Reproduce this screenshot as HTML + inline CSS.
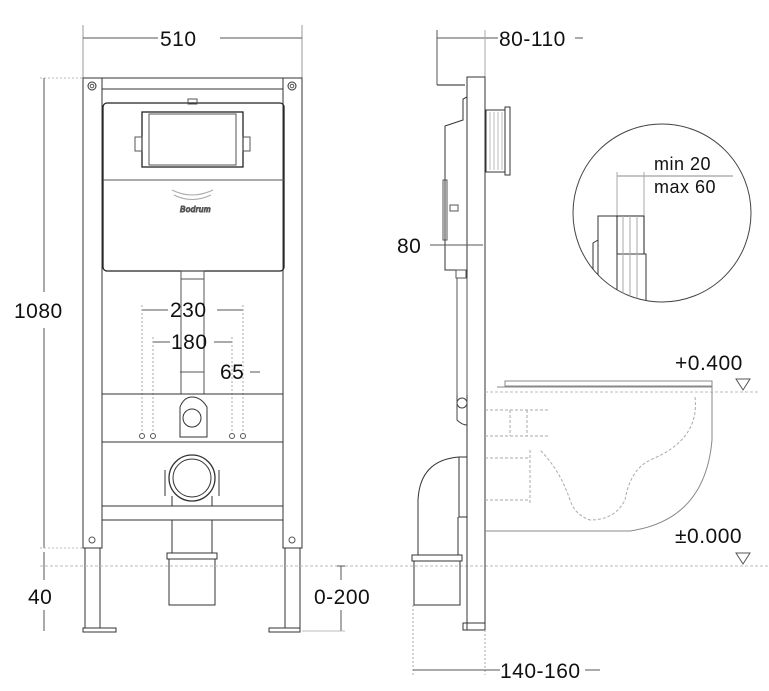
<!DOCTYPE html>
<html><head><meta charset="utf-8"><style>
html,body{margin:0;padding:0;background:#fff;}
svg{display:block}
text{font-family:"Liberation Sans",sans-serif;fill:#111;font-size:21px;letter-spacing:0.5px}
</style></head><body>
<svg width="769" height="691" viewBox="0 0 769 691" xmlns="http://www.w3.org/2000/svg">
<defs><clipPath id="cc"><circle cx="662" cy="213" r="89"/></clipPath></defs>
<g fill="none" stroke="#555" stroke-width="1">
<line x1="83" y1="25" x2="83" y2="78" stroke="#999"/>
<line x1="302" y1="25" x2="302" y2="78" stroke="#999"/>
<line x1="83" y1="38" x2="158" y2="38"/><line x1="220" y1="38" x2="302" y2="38"/>
<line x1="40" y1="78" x2="83" y2="78" stroke="#bbb" stroke-dasharray="2 2"/>
<line x1="44" y1="78" x2="44" y2="292"/><line x1="44" y1="328" x2="44" y2="548"/>
<line x1="40" y1="548" x2="83" y2="548" stroke="#bbb" stroke-dasharray="2 2"/>
<line x1="44" y1="552" x2="44" y2="580"/><line x1="44" y1="610" x2="44" y2="631"/>
<rect x="83" y="78" width="19" height="470" stroke="#333"/>
<rect x="283" y="78" width="19" height="470" stroke="#333"/>
<line x1="102" y1="78" x2="283" y2="78" stroke="#333"/>
<line x1="102" y1="89" x2="283" y2="89" stroke="#333"/>
<circle cx="92" cy="86" r="4" stroke="#333"/><circle cx="92" cy="86" r="1.8"/>
<circle cx="292" cy="86" r="4" stroke="#333"/><circle cx="292" cy="86" r="1.8"/>
<rect x="103" y="103" width="181" height="168" rx="4" stroke="#222" stroke-width="1.3"/>
<line x1="103" y1="180" x2="284" y2="180"/>
<rect x="142" y="112" width="101" height="55" stroke="#222" stroke-width="1.3"/>
<rect x="149" y="114" width="87" height="51"/>
<rect x="135" y="137" width="7" height="14"/><rect x="243" y="137" width="7" height="14"/>
<rect x="188" y="99" width="9" height="5"/>
<path d="M172 190 Q192 200 213 190 M174 195 Q192 204 211 195" stroke="#aaa"/>
<text x="180" y="212" style="font-size:8px;font-style:italic;fill:#aaa">Bodrum</text>
<rect x="181" y="271" width="23" height="8"/>
<line x1="181" y1="279" x2="181" y2="394"/><line x1="204" y1="279" x2="204" y2="394"/>
<line x1="142" y1="310" x2="168" y2="310"/><line x1="217" y1="310" x2="243" y2="310"/>
<line x1="153" y1="342" x2="170" y2="342"/><line x1="214" y1="342" x2="232" y2="342"/>
<line x1="180" y1="372" x2="204" y2="372"/><line x1="250" y1="372" x2="260" y2="372"/>
<g stroke="#aaa" stroke-dasharray="2 2">
<line x1="142" y1="305" x2="142" y2="432"/><line x1="153" y1="337" x2="153" y2="432"/>
<line x1="232" y1="337" x2="232" y2="432"/><line x1="243" y1="305" x2="243" y2="432"/>
</g>
<line x1="102" y1="394" x2="283" y2="394" stroke="#333"/>
<line x1="102" y1="442" x2="283" y2="442" stroke="#333"/>
<line x1="102" y1="506" x2="283" y2="506" stroke="#333"/>
<line x1="102" y1="520" x2="283" y2="520" stroke="#333"/>
<circle cx="142" cy="436" r="2.5"/><circle cx="153" cy="436" r="2.5"/>
<circle cx="232" cy="436" r="2.5"/><circle cx="243" cy="436" r="2.5"/>
<path d="M180 437 L180 407 Q184 397 192 397 Q201 397 207 407 L207 437 Z" stroke="#333"/>
<circle cx="192" cy="418" r="9" stroke="#333"/>
<circle cx="192" cy="478" r="23" stroke="#333" stroke-width="1.3"/>
<circle cx="192" cy="478" r="19" stroke="#333"/>
<path d="M165 470 L165 496 M219 470 L219 496 M172 496 L172 506 M212 496 L212 506" stroke="#333"/>
<rect x="85" y="548" width="15" height="80" stroke="#333"/>
<rect x="285" y="548" width="15" height="80" stroke="#333"/>
<circle cx="92" cy="540" r="3"/><circle cx="292" cy="540" r="3"/>
<rect x="83" y="628" width="33" height="4" stroke="#333"/>
<rect x="269" y="628" width="31" height="4" stroke="#333"/>
<rect x="172" y="520" width="40" height="33" stroke="#333"/>
<rect x="167" y="553" width="50" height="6" stroke="#333"/>
<rect x="169" y="559" width="46" height="46" stroke="#333"/>
<line x1="40" y1="566" x2="769" y2="566" stroke="#bbb" stroke-dasharray="3 2"/>
<line x1="341" y1="566" x2="341" y2="580"/><line x1="341" y1="610" x2="341" y2="631"/>
<line x1="302" y1="631" x2="345" y2="631" stroke="#bbb"/>
<line x1="337" y1="566" x2="345" y2="566"/>

<line x1="437" y1="30" x2="437" y2="85"/>
<line x1="437" y1="38" x2="498" y2="38"/><line x1="575" y1="38" x2="583" y2="38"/>
<line x1="485" y1="30" x2="485" y2="77" stroke="#aaa"/>
<line x1="437" y1="85" x2="465" y2="85" stroke="#222"/>
<rect x="467" y="77" width="18" height="553" stroke="#333"/>
<path d="M467 97 L463 99 L463 120 L445 126 L445 270 L467 270" stroke="#333"/>
<rect x="443" y="180" width="4" height="60"/>
<rect x="450" y="205" width="8" height="6"/>
<rect x="456" y="270" width="10" height="8"/>
<line x1="457" y1="278" x2="457" y2="395"/><line x1="467" y1="278" x2="467" y2="395"/>
<rect x="486" y="110" width="19" height="62" stroke="#333"/>
<rect x="505" y="107" width="5" height="68" stroke="#333"/>
<g stroke="#bbb"><line x1="490" y1="112" x2="490" y2="170"/><line x1="494" y1="112" x2="494" y2="170"/><line x1="498" y1="112" x2="498" y2="170"/><line x1="502" y1="112" x2="502" y2="170"/></g>
<line x1="430" y1="245" x2="483" y2="245"/>
<circle cx="662" cy="213" r="89" stroke="#444"/>
<line x1="617" y1="176" x2="733" y2="176" stroke="#888"/>
<line x1="617" y1="172" x2="617" y2="216" stroke="#aaa"/>
<line x1="644" y1="172" x2="644" y2="216" stroke="#aaa"/>
<g clip-path="url(#cc)">
<rect x="598" y="216" width="19" height="100" stroke="#333"/>
<path d="M598 240 L593 243 L593 300" stroke="#333"/>
<rect x="617" y="216" width="27" height="38" stroke="#222"/>
<rect x="617" y="254" width="29" height="60" stroke="#333"/>
<g stroke="#aaa"><line x1="623" y1="216" x2="623" y2="310"/><line x1="630" y1="216" x2="630" y2="310"/><line x1="637" y1="216" x2="637" y2="310"/></g>
</g>
<rect x="505" y="381" width="207" height="5" stroke="#888"/>
<path d="M497 387 L712 387 L712 392" stroke="#888"/>
<line x1="485" y1="392" x2="760" y2="392" stroke="#bbb" stroke-dasharray="3 2"/>
<path d="M712 392 L712 440 Q705 520 630 531 L485 531" stroke="#888"/>
<path d="M695 397 Q700 440 650 460 Q630 470 625 500 Q615 520 590 520 Q575 515 570 500 Q560 470 540 450" stroke="#aaa" stroke-dasharray="3 2"/>
<path d="M485 410 L548 410 M485 436 L548 436 M510 410 L510 436 M527 410 L527 436 M485 458 L530 458 M485 500 L530 500 M530 450 L530 505" stroke="#aaa" stroke-dasharray="3 2"/>
<path d="M457 395 L457 420 Q462 425 467 425" stroke="#444"/>
<circle cx="462" cy="403" r="5" stroke="#444"/>
<path d="M459 457 Q420 460 418 500 L418 555" stroke="#333"/>
<line x1="458" y1="517" x2="458" y2="555" stroke="#333"/>
<rect x="459" y="457" width="8" height="60" stroke="#333"/>
<rect x="412" y="555" width="50" height="6" stroke="#333"/>
<rect x="414" y="561" width="46" height="44" stroke="#333"/>
<rect x="463" y="623" width="22" height="7" stroke="#333"/>
<line x1="413" y1="605" x2="413" y2="675" stroke="#aaa" stroke-dasharray="2 2"/>
<line x1="485" y1="630" x2="485" y2="675" stroke="#aaa" stroke-dasharray="2 2"/>
<line x1="413" y1="670" x2="500" y2="670"/><line x1="585" y1="670" x2="600" y2="670"/>
<path d="M736 379 L750 379 L743 390 Z" stroke="#555"/>
<path d="M736 553 L750 553 L743 564 Z" stroke="#555"/>
</g>
<text x="160" y="46">510</text>
<text x="14" y="318">1080</text>
<text x="170" y="317">230</text>
<text x="171" y="349">180</text>
<text x="220" y="379">65</text>
<text x="28" y="604">40</text>
<text x="314" y="604">0-200</text>
<text x="499" y="46">80-110</text>
<text x="397" y="253">80</text>
<text x="654" y="170" style="font-size:18px">min 20</text>
<text x="654" y="193" style="font-size:18px">max 60</text>
<text x="675" y="370">+0.400</text>
<text x="675" y="543">±0.000</text>
<text x="500" y="678">140-160</text>
</svg>
</body></html>
